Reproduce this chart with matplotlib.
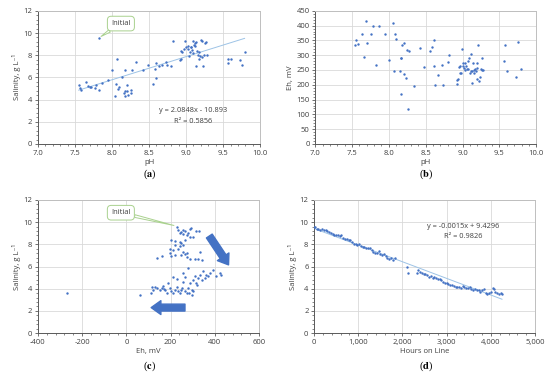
import matplotlib
matplotlib.use('Agg')
import matplotlib.pyplot as plt
from matplotlib.ticker import MultipleLocator, AutoMinorLocator, FuncFormatter

plt.rcParams['font.family'] = ['Open Sans', 'DejaVu Sans']
plt.rcParams['mathtext.fontset'] = 'stix'

# (a) pH vs salinity
ph_a = [7.82, 7.55, 7.57, 7.58, 7.65, 7.67, 7.70, 7.72, 7.77, 7.78, 7.82, 7.87, 7.95,
        8.00, 8.04, 8.06, 8.07, 8.08, 8.10, 8.14, 8.16, 8.17, 8.17, 8.18, 8.20, 8.20,
        8.22, 8.25, 8.25, 8.27, 8.33, 8.42, 8.48, 8.55, 8.58, 8.60, 8.60, 8.63, 8.68,
        8.73, 8.74, 8.80, 8.82, 8.92, 8.93, 8.93, 8.95, 8.97, 8.98, 9.00, 9.02, 9.03,
        9.04, 9.05, 9.06, 9.07, 9.08, 9.09, 9.10, 9.11, 9.12, 9.12, 9.13, 9.14, 9.15,
        9.16, 9.17, 9.18, 9.19, 9.20, 9.21, 9.22, 9.23, 9.24, 9.25, 9.27, 9.28, 9.56,
        9.57, 9.60, 9.73, 9.75, 9.79]
sal_a = [9.55, 5.35, 5.0, 4.85, 5.6, 5.2, 5.15, 5.1, 5.0, 5.3, 4.9, 5.45, 5.75,
         6.7, 4.3, 5.4, 7.65, 4.95, 5.15, 6.0, 4.6, 4.3, 4.75, 6.65, 4.8, 5.35,
         4.4, 4.55, 4.85, 6.65, 7.4, 6.7, 7.1, 5.4, 6.75, 7.3, 5.95, 7.0, 7.1,
         7.4, 7.1, 7.05, 9.3, 7.6, 7.7, 8.4, 8.3, 8.6, 9.3, 8.7, 8.6, 8.8,
         7.9, 8.3, 8.75, 8.7, 8.5, 8.2, 9.3, 8.9, 9.1, 8.8, 7.0, 9.2, 8.4,
         8.0, 8.3, 7.7, 7.9, 9.4, 9.3, 7.8, 7.0, 8.0, 9.1, 9.2, 8.0, 7.65,
         7.3, 7.65, 7.6, 7.1, 8.3]
fit_a = (2.0848, -10.893)

# (b) pH vs Eh
ph_b = [7.54, 7.56, 7.58, 7.64, 7.66, 7.69, 7.70, 7.76, 7.78, 7.82, 7.87, 7.95, 8.00,
        8.06, 8.07, 8.08, 8.10, 8.15, 8.16, 8.17, 8.17, 8.18, 8.20, 8.21, 8.23, 8.25,
        8.26, 8.27, 8.34, 8.42, 8.48, 8.56, 8.59, 8.61, 8.61, 8.63, 8.67, 8.72, 8.73,
        8.80, 8.82, 8.92, 8.93, 8.94, 8.95, 8.96, 8.97, 8.98, 8.99, 9.00, 9.01, 9.02,
        9.03, 9.04, 9.05, 9.06, 9.07, 9.08, 9.09, 9.10, 9.11, 9.12, 9.13, 9.13, 9.14,
        9.15, 9.16, 9.17, 9.18, 9.19, 9.20, 9.20, 9.21, 9.22, 9.23, 9.25, 9.26, 9.27,
        9.28, 9.56, 9.57, 9.60, 9.73, 9.75, 9.79]
eh_b = [335, 352, 337, 370, 295, 415, 342, 372, 400, 267, 397, 372, 284,
        410, 247, 373, 355, 246, 290, 292, 170, 335, 235, 342, 224, 316,
        118, 314, 196, 324, 260, 313, 327, 262, 350, 198, 233, 268, 200,
        276, 300, 202, 215, 218, 260, 240, 262, 240, 322, 265, 272, 258,
        275, 250, 265, 255, 252, 282, 290, 240, 245, 305, 245, 205, 272,
        240, 250, 255, 245, 272, 220, 258, 333, 212, 228, 255, 250, 292,
        250, 280, 333, 245, 225, 345, 255]

# (c) Eh vs salinity
eh_c = [227, 234, 249, 257, 264, 287, 294, 317, 329, 242, 257, 272, 279, 287, 302,
        204, 219, 242, 249, 257, 242, 219, 264, 197, 212, 234, 257, 272, 197, 219,
        249, 264, 140, 159, 200, 272, 332, 287, 310, 324, 340,
        -270, 60, 110, 114, 119, 137, 152, 162, 167, 175, 182, 197, 200, 212, 220,
        227, 235, 242, 250, 254, 265, 272, 277, 284, 287, 295, 299, 302, 310, 317,
        325, 332, 340, 347, 355, 370, 377, 362, 392, 423, 430, 407, 254, 265, 212,
        227, 280, 300, 320, 245, 190, 170, 130]
sal_c = [9.58, 9.28, 9.13, 9.28, 9.22, 9.34, 9.43, 9.22, 9.22, 8.98, 8.92, 8.83, 8.98,
         8.68, 8.68, 8.38, 8.32, 8.23, 8.08, 7.94, 7.85, 7.94, 8.38, 7.55, 7.49, 7.55,
         7.34, 7.25, 7.19, 7.04, 7.04, 7.13, 6.80, 6.95, 6.98, 6.89, 7.34, 6.65, 6.65,
         6.65, 6.59,
         3.65, 3.45, 3.62, 4.16, 3.92, 4.07, 3.92, 4.07, 4.22, 3.92, 3.62, 4.07, 3.77,
         3.62, 3.92, 4.13, 3.77, 3.62, 4.07, 4.58, 3.77, 3.62, 4.07, 3.62, 4.52, 3.92,
         3.47, 4.82, 5.12, 4.52, 4.97, 5.27, 4.82, 5.57, 4.97, 5.12, 5.42, 5.27, 5.72,
         5.42, 5.27, 5.12, 5.42, 5.06, 5.03, 4.88, 5.87, 3.8, 4.3, 3.9, 4.5, 4.0, 4.2]

# (d) hours vs salinity
hours_d = [0, 30, 60, 100, 140, 180, 220, 260, 300, 340, 380, 420, 460, 500, 540, 580,
           620, 660, 700, 740, 780, 820, 860, 900, 940, 980, 1020, 1060, 1100, 1140,
           1180, 1220, 1260, 1300, 1340, 1380, 1420, 1460, 1500, 1540, 1580, 1620,
           1660, 1700, 1740, 1780, 1820, 2100, 2120, 2330, 2360, 2400, 2440, 2480,
           2520, 2560, 2600, 2640, 2680, 2720, 2760, 2800, 2840, 2880, 2920, 2960,
           3000, 3040, 3080, 3120, 3160, 3200, 3240, 3280, 3320, 3360, 3400, 3440,
           3480, 3520, 3560, 3600, 3640, 3680, 3720, 3760, 3800, 3840, 3880, 3920,
           3960, 4000, 4040, 4060, 4100, 4140, 4180, 4220, 4250]
sal_d = [9.6, 9.55, 9.35, 9.4, 9.3, 9.35, 9.3, 9.25, 9.2, 9.15, 9.0, 8.95, 8.85, 8.85,
         8.8, 8.75, 8.8, 8.6, 8.5, 8.45, 8.4, 8.4, 8.2, 8.05, 8.0, 7.95, 8.05, 7.85,
         7.75, 7.75, 7.7, 7.65, 7.7, 7.5, 7.3, 7.2, 7.25, 7.4, 7.1, 7.05, 7.1, 6.95,
         6.8, 6.7, 6.75, 6.6, 6.75, 5.95, 5.4, 5.4, 5.7, 5.5, 5.45, 5.35, 5.3, 5.25,
         5.1, 5.15, 5.0, 5.05, 4.95, 4.9, 4.85, 4.8, 4.6, 4.55, 4.5, 4.4, 4.35, 4.3,
         4.25, 4.2, 4.15, 4.2, 4.1, 4.25, 4.2, 4.1, 4.05, 4.2, 3.95, 3.85, 4.0, 3.85,
         3.9, 3.75, 3.85, 4.0, 3.65, 3.55, 3.6, 3.75, 4.1, 4.0, 3.7, 3.6, 3.5, 3.6, 3.55]
fit_d = (-0.0015, 9.4296)

BLUE = '#4472C4'
TREND = '#9DC3E6'
GRID = '#D9D9D9'
CALLOUT = '#A9D18E'
SAL_LABEL = 'Salinity, g L⁻¹'

fig = plt.figure(figsize=(5.5, 3.86), dpi=100)
ax_a = fig.add_axes([0.069, 0.627, 0.404, 0.345])
ax_b = fig.add_axes([0.573, 0.627, 0.402, 0.345])
ax_c = fig.add_axes([0.069, 0.137, 0.402, 0.345])
ax_d = fig.add_axes([0.571, 0.137, 0.402, 0.345])


def style(ax, xlim, xstep, ylim, ystep, xlabel, ylabel, xfmt):
    ax.set_xlim(xlim)
    ax.set_ylim(ylim)
    ax.xaxis.set_major_locator(MultipleLocator(xstep))
    ax.yaxis.set_major_locator(MultipleLocator(ystep))
    ax.xaxis.set_minor_locator(AutoMinorLocator(5))
    ax.yaxis.set_minor_locator(AutoMinorLocator(5))
    ax.xaxis.set_major_formatter(FuncFormatter(xfmt))
    ax.grid(True, which='major', color=GRID, lw=0.6)
    ax.set_axisbelow(True)
    for s in ax.spines.values():
        s.set_color('#BFBFBF')
        s.set_linewidth(0.7)
    ax.spines['left'].set_color('#595959')
    ax.spines['bottom'].set_color('#595959')
    ax.tick_params(which='major', length=2.5, width=0.6, color='#595959',
                   labelsize=5.5, pad=1.5, labelcolor='#404040')
    ax.tick_params(which='minor', length=1.5, width=0.5, color='#595959')
    ax.set_xlabel(xlabel, fontsize=5.5, color='#404040', labelpad=2)
    ax.set_ylabel(ylabel, fontsize=5.5, color='#404040', labelpad=2)


one_dec = lambda v, p: f'{v:.1f}'
integer = lambda v, p: f'{v:.0f}'
thousands = lambda v, p: f'{v:,.0f}'

# (a)
style(ax_a, (7.0, 10.0), 0.5, (0, 12), 2, 'pH', SAL_LABEL, one_dec)
ax_a.scatter(ph_a, sal_a, s=3, color=BLUE, lw=0, zorder=3)
xa = [min(ph_a), max(ph_a)]
ax_a.plot(xa, [fit_a[0] * v + fit_a[1] for v in xa], color=TREND, lw=0.7, zorder=2)
ax_a.text(9.1, 3.0, 'y = 2.0848x - 10.893', fontsize=5.3, ha='center', va='center', color='#404040')
ax_a.text(9.1, 2.05, 'R² = 0.5856', fontsize=5.3, ha='center', va='center', color='#404040')
ax_a.annotate('Initial', xy=(ph_a[0], sal_a[0]), xytext=(8.12, 10.85), fontsize=5.5,
              ha='center', va='center', color='#404040',
              bbox=dict(boxstyle='round,pad=0.5', fc='white', ec=CALLOUT, lw=0.7),
              arrowprops=dict(arrowstyle='wedge,tail_width=0.35', fc='white', ec=CALLOUT,
                              lw=0.7, shrinkA=0, shrinkB=2))

# (b)
style(ax_b, (7.0, 10.0), 0.5, (0, 450), 50, 'pH', 'Eh, mV', one_dec)
ax_b.scatter(ph_b, eh_b, s=3, color=BLUE, lw=0, zorder=3)

# (c)
style(ax_c, (-400, 600), 200, (0, 12), 2, 'Eh, mV', SAL_LABEL, integer)
ax_c.scatter(eh_c, sal_c, s=3, color=BLUE, lw=0, zorder=3)
ax_c.annotate('Initial', xy=(215, 9.7), xytext=(-25, 10.85), fontsize=5.5,
              ha='center', va='center', color='#404040',
              bbox=dict(boxstyle='round,pad=0.5', fc='white', ec=CALLOUT, lw=0.7),
              arrowprops=dict(arrowstyle='wedge,tail_width=0.35', fc='white', ec=CALLOUT,
                              lw=0.7, shrinkA=0, shrinkB=0))
arrow_kw = dict(arrowstyle='simple,head_width=1.0,head_length=0.7,tail_width=0.5',
                fc=BLUE, ec=BLUE, shrinkA=0, shrinkB=0)
ax_c.annotate('', xy=(462, 6.15), xytext=(375, 8.75), arrowprops=arrow_kw)
ax_c.annotate('', xy=(112, 2.3), xytext=(265, 2.3), arrowprops=arrow_kw)

# (d)
style(ax_d, (0, 5000), 1000, (0, 12), 2, 'Hours on Line', SAL_LABEL, thousands)
ax_d.scatter(hours_d, sal_d, s=3, color=BLUE, lw=0, zorder=3)
xd = [min(hours_d), max(hours_d)]
ax_d.plot(xd, [fit_d[0] * v + fit_d[1] for v in xd], color=TREND, lw=0.7, zorder=2)
ax_d.text(3380, 9.6, 'y = -0.0015x + 9.4296', fontsize=5.3, ha='center', va='center', color='#404040')
ax_d.text(3380, 8.75, 'R² = 0.9826', fontsize=5.3, ha='center', va='center', color='#404040')

# panel letters
for x, y, letter in [(0.272, 0.548, 'a'), (0.774, 0.548, 'b'),
                     (0.272, 0.05, 'c'), (0.774, 0.05, 'd')]:
    fig.text(x, y, r'($\mathbf{%s}$)' % letter, fontsize=7.5, family='Liberation Serif',
             ha='center', va='center')

fig.savefig('out.png', dpi=100)
